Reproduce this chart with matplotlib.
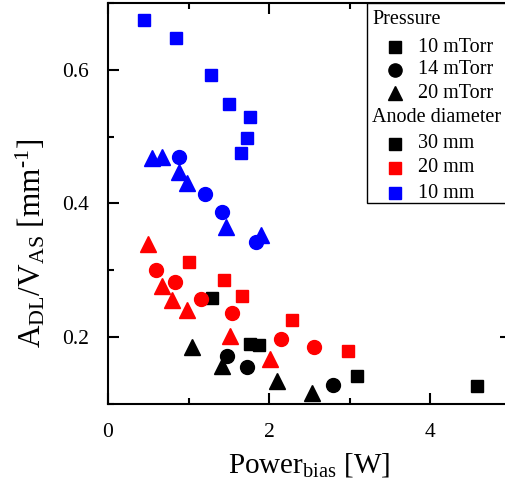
import matplotlib
matplotlib.use("Agg")
import matplotlib.pyplot as plt
from matplotlib.patches import Rectangle

plt.rcParams["font.family"] = ["Liberation Serif", "DejaVu Serif"]
plt.rcParams["mathtext.fontset"] = "custom"
plt.rcParams["mathtext.rm"] = "Liberation Serif"
plt.rcParams["mathtext.it"] = "Liberation Serif:italic"

# anode 30 mm (black)
p30_10x = [1.29, 1.76, 1.88, 3.09, 4.59]
p30_10y = [0.258, 0.190, 0.188, 0.142, 0.127]
p30_14x = [1.48, 1.73, 2.80]
p30_14y = [0.172, 0.156, 0.128]
p30_20x = [1.04, 1.42, 2.10, 2.53]
p30_20y = [0.186, 0.157, 0.135, 0.117]

# anode 20 mm (red)
p20_10x = [1.00, 1.44, 1.66, 2.29, 2.98]
p20_10y = [0.313, 0.285, 0.261, 0.226, 0.180]
p20_14x = [0.60, 0.83, 1.15, 1.54, 2.15, 2.56]
p20_14y = [0.301, 0.283, 0.257, 0.236, 0.198, 0.185]
p20_20x = [0.50, 0.67, 0.80, 0.98, 1.52, 2.01]
p20_20y = [0.340, 0.276, 0.256, 0.240, 0.202, 0.168]

# anode 10 mm (blue)
p10_10x = [0.45, 0.85, 1.28, 1.50, 1.76, 1.73, 1.65]
p10_10y = [0.675, 0.647, 0.593, 0.549, 0.530, 0.498, 0.475]
p10_14x = [0.88, 1.21, 1.42, 1.84]
p10_14y = [0.469, 0.414, 0.388, 0.342]
p10_20x = [0.55, 0.67, 0.88, 0.985, 1.46, 1.90]
p10_20y = [0.468, 0.470, 0.447, 0.430, 0.365, 0.353]

pressures = ["10 mTorr", "14 mTorr", "20 mTorr"]
anodes = ["30 mm", "20 mm", "10 mm"]
colors = ["black", "red", "blue"]
markers = ["s", "o", "^"]
sizes = [9, 10, 11.5]

groups = [
    [(p30_10x, p30_10y), (p30_14x, p30_14y), (p30_20x, p30_20y)],
    [(p20_10x, p20_10y), (p20_14x, p20_14y), (p20_20x, p20_20y)],
    [(p10_10x, p10_10y), (p10_14x, p10_14y), (p10_20x, p10_20y)],
]

W, H = 505, 498
fig = plt.figure(figsize=(W / 100, H / 100), dpi=100)
ax = fig.add_axes([108 / W, 1 - 404 / H, 402.5 / W, 401 / H])

for ci, grp in enumerate(groups):
    for mi, (xs, ys) in enumerate(grp):
        ax.plot(xs, ys, linestyle="none", marker=markers[mi], ms=sizes[mi],
                color=colors[ci], mec=colors[ci], clip_on=False)

ax.set_xlim(0, 5)
ax.set_ylim(0.1, 0.7)
ax.set_xticks([0, 2, 4])
ax.set_xticks([1, 3, 5], minor=True)
ax.set_yticks([0.2, 0.4, 0.6])
ax.set_yticks([0.1, 0.3, 0.5, 0.7], minor=True)
ax.tick_params(which="both", direction="in", top=True, right=True, width=1.5,
               labelsize=15.5, pad=14)
ax.tick_params(which="major", length=8)
ax.tick_params(which="minor", length=4.5)
for s in ax.spines.values():
    s.set_linewidth(1.5)

ax.set_xlabel(r"Power$_\mathregular{bias}$ [W]", fontsize=21, labelpad=6)
ax.set_ylabel("A$_\\mathregular{DL}$/V$_\\mathregular{AS}$ [mm$^\\mathregular{\u20101}$]",
              fontsize=22.5)
ax.yaxis.set_label_coords(-0.15, 0.40)


# legend drawn by hand (two headers with indented entries)
def ax_xy(px, py):
    return (px - 108) / 402.5, (404 - py) / 401


x0, y0 = ax_xy(367, 203)
x1, y1 = ax_xy(510, 3)
ax.add_patch(Rectangle((x0, y0), x1 - x0, y1 - y0, transform=ax.transAxes,
                       facecolor="white", edgecolor="black", lw=1.0, zorder=5))

rows = [("Pressure", None, None, 20),
        (pressures[0], "s", "black", 47),
        (pressures[1], "o", "black", 70),
        (pressures[2], "^", "black", 93),
        ("Anode diameter", None, None, 118),
        (anodes[0], "s", colors[0], 144),
        (anodes[1], "s", colors[1], 168),
        (anodes[2], "s", colors[2], 193)]
for label, mk, col, py in rows:
    if mk is None:
        tx, ty = ax_xy(372, py)
        ax.text(tx, ty, label, transform=ax.transAxes, fontsize=14.5,
                va="center", ha="left", zorder=6)
    else:
        mx, my = ax_xy(395, py)
        ax.plot([mx], [my], marker=mk, ms=8 if mk == "s" else 9.5, color=col,
                transform=ax.transAxes, clip_on=False, zorder=6)
        tx, ty = ax_xy(418, py)
        ax.text(tx, ty, label, transform=ax.transAxes, fontsize=14.5,
                va="center", ha="left", zorder=6)

fig.savefig("out.png", dpi=100)
